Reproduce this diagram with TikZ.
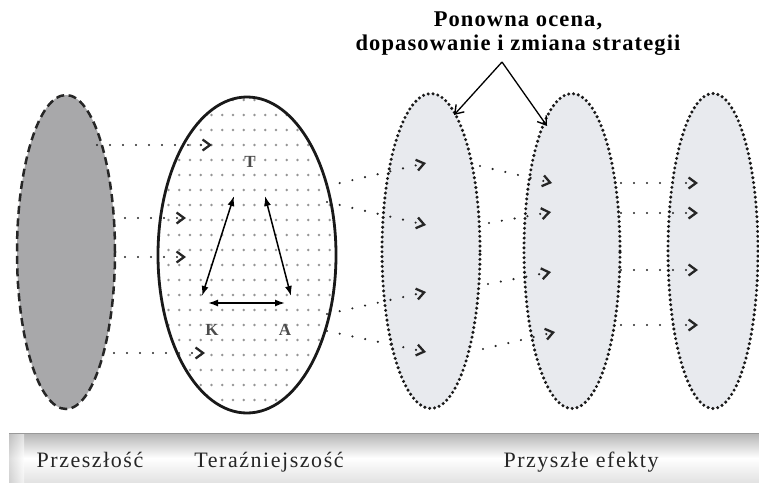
\documentclass[tikz,border=0pt]{standalone}
\usepackage{fontspec}
\setmainfont{Liberation Serif}
\usetikzlibrary{arrows.meta,shapes.geometric}
\definecolor{pastgray}{HTML}{A8A8AA}
\definecolor{futfill}{HTML}{E8EAEE}
\definecolor{griddot}{HTML}{959595}
\definecolor{bandgray}{HTML}{B4B4B4}
\tikzset{
  pastell/.style={ellipse, draw=black!85, fill=pastgray, line width=2.5pt,
    dash pattern=on 8pt off 4.5pt, minimum width=98pt, minimum height=314pt, inner sep=0pt},
  presell/.style={ellipse, draw=black!90, line width=2.8pt,
    minimum width=178pt, minimum height=316pt, inner sep=0pt},
  futell/.style={ellipse, draw=black!90, fill=futfill, line width=3.4pt,
    dash pattern=on 0pt off 4.9pt, line cap=round, minimum height=315pt, inner sep=0pt},
  flow/.style={line width=2.4pt, draw=black!85, dash pattern=on 0pt off 13pt, line cap=round,
    -{Straight Barb[length=7.5pt,width=11pt,line width=2.3pt]}},
  tri/.style={line width=1.5pt, {Latex[length=10pt,width=7pt]}-{Latex[length=10pt,width=7pt]}},
  callout/.style={line width=1.3pt, -{Straight Barb[length=8pt,width=11pt,line width=1.4pt]}},
  lbl/.style={font=\fontsize{22}{24}\selectfont\addfontfeature{LetterSpace=7}, anchor=base, text=black!85},
  trilbl/.style={font=\bfseries\fontsize{17}{17}\selectfont, text=black!70},
  titlelbl/.style={font=\bfseries\fontsize{22.5}{24}\selectfont\addfontfeature{LetterSpace=5},
    align=center, inner sep=0pt}
}
\begin{document}
\begin{tikzpicture}[x=1pt,y=-1pt]
\useasboundingbox (0,0) rectangle (759,482);
% bottom band
\shade[top color=bandgray, bottom color=white] (9,433) rectangle (759,458);
\shade[top color=white, bottom color=gray!22] (9,458) rectangle (759,482);
\shade[left color=gray!45, right color=white, opacity=0.6] (9,433) rectangle (24,482);
\draw[gray!80, line width=1pt] (9,433) -- (759,433);
\node[lbl] (lpast) at (90,467) {Przeszłość};
\node[lbl] (lpres) at (269,467) {Teraźniejszość};
\node[lbl] (lfut) at (581,467) {Przyszłe efekty};

% past
\node[pastell] (past) at (66,252) {};
% present: dot grid
\begin{scope}
  \clip (247,255) ellipse [x radius=88pt, y radius=157pt];
  \foreach \i in {0,...,17}
    \foreach \j in {0,...,21}
      \fill[griddot] (157.75+10.75*\i, 100+15*\j) circle [radius=1.4pt];
\end{scope}
\node[presell] (pres) at (247,255) {};
% future ellipses
\node[futell, minimum width=98pt] (fa) at (431,251) {};
\node[futell, minimum width=96pt] (fb) at (572,251) {};
\node[futell, minimum width=90pt] (fc) at (713,251) {};

% flow coordinates
\coordinate (p1s) at (97,145);  \coordinate (p1e) at (212,145);
\coordinate (p2s) at (125,218); \coordinate (p2e) at (186,218);
\coordinate (p3s) at (125,257); \coordinate (p3e) at (186,257);
\coordinate (p4s) at (114,353); \coordinate (p4e) at (205,353);
\draw[flow] (p1s) -- (p1e);
\draw[flow] (p2s) -- (p2e);
\draw[flow] (p3s) -- (p3e);
\draw[flow] (p4s) -- (p4e);

\coordinate (q1s) at (327,186); \coordinate (q1e) at (426,163);
\coordinate (q2s) at (327,202); \coordinate (q2e) at (426,225);
\coordinate (q3s) at (327,314); \coordinate (q3e) at (426,292);
\coordinate (q4s) at (327,331); \coordinate (q4e) at (426,352);
\draw[flow] (q1s) -- (q1e);
\draw[flow] (q2s) -- (q2e);
\draw[flow] (q3s) -- (q3e);
\draw[flow] (q4s) -- (q4e);

\coordinate (r1s) at (480,166); \coordinate (r1e) at (552,183);
\coordinate (r2s) at (489,223); \coordinate (r2e) at (551,212);
\coordinate (r3s) at (488,284); \coordinate (r3e) at (551,272);
\coordinate (r4s) at (483,349); \coordinate (r4e) at (555,332);
\draw[flow] (r1s) -- (r1e);
\draw[flow] (r2s) -- (r2e);
\draw[flow] (r3s) -- (r3e);
\draw[flow] (r4s) -- (r4e);

\coordinate (s1s) at (621,183); \coordinate (s1e) at (698,183);
\coordinate (s2s) at (621,213); \coordinate (s2e) at (698,213);
\coordinate (s3s) at (621,270); \coordinate (s3e) at (698,270);
\coordinate (s4s) at (621,325); \coordinate (s4e) at (698,325);
\draw[flow] (s1s) -- (s1e);
\draw[flow] (s2s) -- (s2e);
\draw[flow] (s3s) -- (s3e);
\draw[flow] (s4s) -- (s4e);

% triangle
\node[trilbl] (T) at (250,162) {T};
\node[trilbl] (K) at (212,330) {K};
\node[trilbl] (A) at (285,330) {A};
\coordinate (kt1) at (202,296); \coordinate (kt2) at (234,196);
\coordinate (ta1) at (265,196); \coordinate (ta2) at (291,296);
\coordinate (ka1) at (208,303); \coordinate (ka2) at (285,303);
\draw[tri] (kt1) -- (kt2);
\draw[tri] (ta1) -- (ta2);
\draw[tri] (ka1) -- (ka2);

% title and callouts
\node[titlelbl] (title) at (518,34) {Ponowna ocena,\\dopasowanie i zmiana strategii};
\coordinate (apex) at (502,62);
\coordinate (ca) at (454,115);
\coordinate (cb) at (547,126);
\draw[callout] (apex) -- (ca);
\draw[callout] (apex) -- (cb);
\end{tikzpicture}
\end{document}
